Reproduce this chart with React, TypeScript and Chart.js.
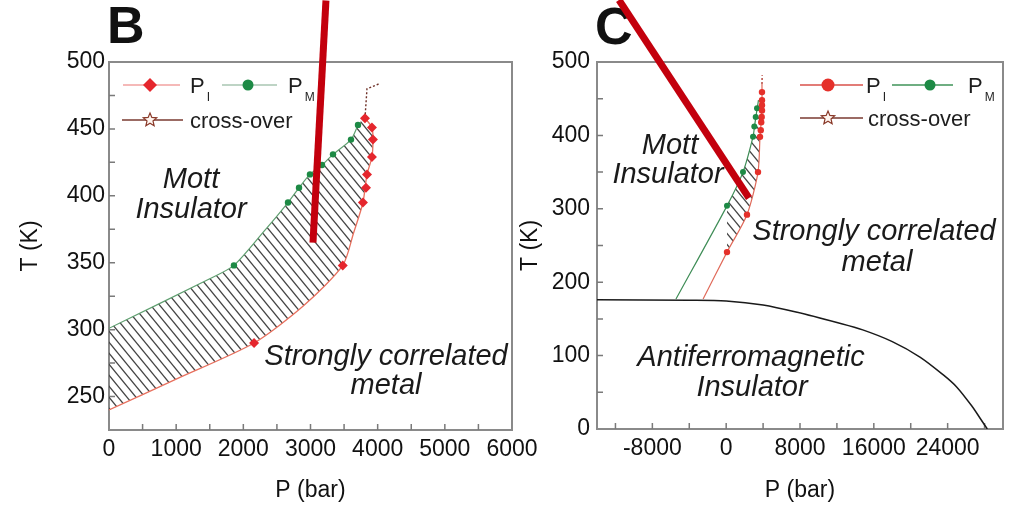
import React, { useEffect, useRef } from 'react';
import { Chart, registerables } from 'chart.js';

Chart.register(...registerables);

// ================= Panel B data =================
const B_PI_CURVE_P = [0, 1000, 2160, 2900, 3480, 3640, 3781, 3841, 3915, 3930, 3915, 3811];
const B_PI_CURVE_T = [240, 263, 290, 318, 348, 372, 395, 416, 429, 442, 451, 458];
const B_PI_P = [2160, 3480, 3781, 3826, 3841, 3915, 3930, 3915, 3811];
const B_PI_T = [290, 348, 395, 406, 416, 429, 442, 451, 458];
const B_PM_CURVE_P = [0, 1500, 1860, 2300, 2665, 2829, 2992, 3171, 3335, 3603, 3707];
const B_PM_CURVE_T = [301, 338, 348, 373, 395, 406, 416, 423, 431, 442, 453];
const B_PM_P = [1860, 2665, 2829, 2992, 3171, 3335, 3603, 3707];
const B_PM_T = [348, 395, 406, 416, 423, 431, 442, 453];
const B_CROSS_P = [3811, 3841, 4035];
const B_CROSS_T = [458, 480, 484];
const B_ARROW_P = [3230, 3037];
const B_ARROW_T = [546, 365];
const B_X_TICKS = [0, 1000, 2000, 3000, 4000, 5000, 6000];
const B_Y_TICKS = [250, 300, 350, 400, 450, 500];
const B_X_MINOR = [500, 1000, 1500, 2000, 2500, 3000, 3500, 4000, 4500, 5000, 5500];
const B_Y_MINOR = [250, 275, 300, 325, 350, 375, 400, 425, 450, 475];

// ================= Panel C data =================
const C_AF_P = [-14000, -4000, 0, 4000, 7700, 12000, 14800, 18000, 21000, 23500, 25000, 26700, 27500, 28300];
const C_AF_T = [176, 175.5, 174.5, 169, 159, 145, 135, 119, 98, 74, 57, 30, 15, 0];
const C_PI_CURVE_P = [-2500, 88, 2256, 3450, 3665, 3800, 3880, 3880];
const C_PI_CURVE_T = [177, 241, 292, 350, 398, 420, 440, 470];
const C_PI_P = [88, 2256, 3450, 3665, 3750, 3800, 3850, 3880, 3880, 3880, 3880];
const C_PI_T = [241, 292, 350, 398, 407, 418, 425, 434, 441, 448, 459];
const C_PM_CURVE_P = [-5440, 88, 1822, 2906, 3100, 3250, 3400, 3500];
const C_PM_CURVE_T = [177, 304, 350, 398, 415, 428, 440, 448];
const C_PM_P = [88, 1822, 2906, 3050, 3200, 3340];
const C_PM_T = [304, 350, 398, 412, 425, 437];
const C_CROSS_P = [3880, 3890, 3900];
const C_CROSS_T = [470, 476, 482];
const C_ARROW_P = [-11616, 2472];
const C_ARROW_T = [584.5, 314.7];
const C_X_TICKS = [-8000, 0, 8000, 16000, 24000];
const C_Y_TICKS = [0, 100, 200, 300, 400, 500];
const C_X_MINOR = [-12000, -8000, -4000, 0, 4000, 8000, 12000, 16000, 20000, 24000, 28000];
const C_Y_MINOR = [50, 100, 150, 200, 250, 300, 350, 400, 450];

const FONT = '"Liberation Sans", Arial, Helvetica, sans-serif';
const ARROW_RED = '#c3000d';

type Pt = { x: number; y: number };
const zip = (xs: number[], ys: number[]): Pt[] => xs.map((x, i) => ({ x, y: ys[i] }));

function makeHatch(): CanvasPattern | string {
  const w = 9, h = 11;
  const c = document.createElement('canvas');
  c.width = w; c.height = h;
  const g = c.getContext('2d');
  if (!g) return 'rgba(0,0,0,0.3)';
  g.strokeStyle = '#444444';
  g.lineWidth = 1.3;
  for (const k of [-1, 0, 1]) {
    g.beginPath();
    g.moveTo(k * w - w, -h);
    g.lineTo(k * w + 2 * w, 2 * h);
    g.stroke();
  }
  return g.createPattern(c, 'repeat') || 'rgba(0,0,0,0.3)';
}

type LegendItem = { kind: 'diamond' | 'circle' | 'star'; color: string; lineColor: string; x0: number; x1: number; mx: number; y: number; tx: number; label: string; sub?: string; size: number };
type TextItem = { text: string; x: number; y: number };
type DecorCfg = { letter: string; letterDx: number; letterY: number; xMinor: number[]; yMinor: number[]; legend: LegendItem[]; texts: TextItem[] };

function drawMarker(ctx: CanvasRenderingContext2D, kind: string, x: number, y: number, r: number, color: string) {
  ctx.save();
  ctx.fillStyle = color;
  ctx.strokeStyle = color;
  ctx.beginPath();
  if (kind === 'diamond') {
    ctx.moveTo(x, y - r); ctx.lineTo(x + r, y); ctx.lineTo(x, y + r); ctx.lineTo(x - r, y); ctx.closePath(); ctx.fill();
  } else if (kind === 'circle') {
    ctx.arc(x, y, r, 0, Math.PI * 2); ctx.fill();
  } else {
    for (let i = 0; i < 10; i++) {
      const ang = -Math.PI / 2 + (i * Math.PI) / 5;
      const rr = i % 2 === 0 ? r : r * 0.45;
      const px = x + rr * Math.cos(ang), py = y + rr * Math.sin(ang);
      if (i === 0) ctx.moveTo(px, py); else ctx.lineTo(px, py);
    }
    ctx.closePath();
    ctx.fillStyle = '#fff6f0';
    ctx.fill();
    ctx.lineWidth = 1.2;
    ctx.stroke();
  }
  ctx.restore();
}

function decorPlugin(cfg: DecorCfg) {
  return {
    id: 'decor',
    beforeDatasetsDraw(chart: any) {
      const { ctx, chartArea: a } = chart;
      const xs = chart.scales.x, ys = chart.scales.y;
      ctx.save();
      // frame
      ctx.strokeStyle = '#8a8a8a';
      ctx.lineWidth = 2;
      ctx.strokeRect(a.left, a.top, a.right - a.left, a.bottom - a.top);
      // inward ticks
      ctx.lineWidth = 1.5;
      ctx.strokeStyle = '#7a7a7a';
      ctx.beginPath();
      for (const v of cfg.xMinor) {
        const p = xs.getPixelForValue(v);
        ctx.moveTo(p, a.bottom); ctx.lineTo(p, a.bottom - 6);
      }
      for (const v of cfg.yMinor) {
        const p = ys.getPixelForValue(v);
        ctx.moveTo(a.left, p); ctx.lineTo(a.left + 6, p);
      }
      ctx.stroke();
      // region texts
      ctx.fillStyle = '#1a1a1a';
      ctx.textAlign = 'center';
      ctx.textBaseline = 'middle';
      ctx.font = `italic 29px ${FONT}`;
      for (const t of cfg.texts) {
        ctx.fillText(t.text, xs.getPixelForValue(t.x), ys.getPixelForValue(t.y));
      }
      // legend
      ctx.textAlign = 'left';
      ctx.textBaseline = 'alphabetic';
      for (const it of cfg.legend) {
        const y = a.top + it.y;
        ctx.strokeStyle = it.lineColor;
        ctx.lineWidth = 1.4;
        ctx.beginPath();
        ctx.moveTo(a.left + it.x0, y); ctx.lineTo(a.left + it.x1, y);
        ctx.stroke();
        drawMarker(ctx, it.kind, a.left + it.mx, y, it.size, it.color);
        ctx.fillStyle = '#1e1e1e';
        ctx.font = `22px ${FONT}`;
        ctx.fillText(it.label, a.left + it.tx, y + 8);
        if (it.sub) {
          const w = ctx.measureText(it.label).width;
          ctx.font = `12px ${FONT}`;
          ctx.fillText(it.sub, a.left + it.tx + w + 2, y + 16);
        }
      }
      // panel letter
      ctx.fillStyle = '#111';
      ctx.font = `bold 52px ${FONT}`;
      ctx.fillText(cfg.letter, a.left + cfg.letterDx, cfg.letterY);
      ctx.restore();
    },
  };
}

function scaleOpts(min: number, max: number, ticks: number[], fixedSize: number, isX: boolean, tickPad: number, title: string, titlePad: any) {
  return {
    type: 'linear',
    min,
    max,
    afterBuildTicks: (s: any) => { s.ticks = ticks.map((v) => ({ value: v })); },
    afterFit: (s: any) => { if (isX) s.height = fixedSize; else s.width = fixedSize; },
    grid: { display: false, drawTicks: false },
    border: { display: false },
    ticks: {
      autoSkip: false,
      maxRotation: 0,
      padding: tickPad,
      color: '#111111',
      font: { family: FONT, size: 23 },
      callback: (v: any) => String(v),
    },
    title: { display: true, text: title, color: '#111111', font: { family: FONT, size: 23 }, padding: titlePad },
  };
}

function lineDs(pts: Pt[], color: string, width: number, extra: any = {}) {
  return { data: pts, showLine: true, borderColor: color, borderWidth: width, pointRadius: 0, tension: 0.25, fill: false, ...extra };
}
function markDs(pts: Pt[], style: string, r: number, color: string) {
  return { data: pts, showLine: false, pointStyle: style, pointRadius: r, backgroundColor: color, borderColor: color, borderWidth: 0 };
}

function buildB(): any {
  const pm = zip(B_PM_CURVE_P, B_PM_CURVE_T);
  const pi = zip(B_PI_CURVE_P, B_PI_CURVE_T);
  const hatch = [...pm, ...pi.slice().reverse()];
  const decor: DecorCfg = {
    letter: 'B', letterDx: -2, letterY: 43,
    xMinor: B_X_MINOR, yMinor: B_Y_MINOR,
    legend: [
      { kind: 'diamond', color: '#e5262d', lineColor: '#f2a2a0', x0: 14, x1: 71, mx: 41, y: 23, tx: 81, label: 'P', sub: 'I', size: 7 },
      { kind: 'circle', color: '#1d8a45', lineColor: '#a9c6b2', x0: 113, x1: 168, mx: 139, y: 23, tx: 179, label: 'P', sub: 'M', size: 5.5 },
      { kind: 'star', color: '#8a3a2a', lineColor: '#7a3a30', x0: 13, x1: 74, mx: 41, y: 58, tx: 81, label: 'cross-over', size: 7 },
    ],
    texts: [
      { text: 'Mott', x: 1221, y: 411.8 },
      { text: 'Insulator', x: 1221, y: 389.4 },
      { text: 'Strongly correlated', x: 4124, y: 279.5 },
      { text: 'metal', x: 4124, y: 257.9 },
    ],
  };
  return {
    type: 'scatter',
    data: {
      datasets: [
        lineDs(zip(B_ARROW_P, B_ARROW_T), ARROW_RED, 7, { clip: false, tension: 0, borderCapStyle: 'butt' }),
        markDs(zip(B_PI_P, B_PI_T), 'rectRot', 5, '#e5262d'),
        markDs(zip(B_PM_P, B_PM_T), 'circle', 3.2, '#1d8a45'),
        lineDs(zip(B_CROSS_P, B_CROSS_T), '#6e2f26', 1.4, { borderDash: [2, 2], tension: 0 }),
        lineDs(pi, '#e8705e', 1.3),
        lineDs(pm, '#5f9f70', 1.2),
        { data: hatch, showLine: true, borderWidth: 0, borderColor: 'rgba(0,0,0,0)', pointRadius: 0, tension: 0.25, fill: 'shape', backgroundColor: makeHatch() },
      ],
    },
    options: {
      responsive: false,
      animation: false,
      events: [],
      layout: { padding: { left: 0, right: 48, top: 62, bottom: 0 } },
      plugins: { legend: { display: false }, tooltip: { enabled: false }, title: { display: false } },
      scales: {
        x: scaleOpts(0, 6000, B_X_TICKS, 78, true, 6, 'P (bar)', { top: 0, bottom: 4 }),
        y: scaleOpts(225, 500, B_Y_TICKS, 109, false, 4, 'T (K)', { top: 17, bottom: 0 }),
      },
    },
    plugins: [decorPlugin(decor)],
  };
}

function buildC(): any {
  const pm = zip(C_PM_CURVE_P, C_PM_CURVE_T);
  const pi = zip(C_PI_CURVE_P, C_PI_CURVE_T);
  const hatch = [...pm.slice(1), ...pi.slice(1, -1).reverse()];
  const decor: DecorCfg = {
    letter: 'C', letterDx: -2, letterY: 44,
    xMinor: C_X_MINOR, yMinor: C_Y_MINOR,
    legend: [
      { kind: 'circle', color: '#e5302a', lineColor: '#d8504a', x0: 203, x1: 266, mx: 231, y: 23, tx: 269, label: 'P', sub: 'I', size: 6.5 },
      { kind: 'circle', color: '#1d8a45', lineColor: '#3f9358', x0: 295, x1: 356, mx: 333, y: 23, tx: 371, label: 'P', sub: 'M', size: 5.5 },
      { kind: 'star', color: '#8a3a2a', lineColor: '#7a3a30', x0: 203, x1: 266, mx: 231, y: 56, tx: 271, label: 'cross-over', size: 7 },
    ],
    texts: [
      { text: 'Mott', x: -6089, y: 385.6 },
      { text: 'Insulator', x: -6306, y: 346 },
      { text: 'Strongly correlated', x: 16018, y: 268.4 },
      { text: 'metal', x: 16343, y: 226.2 },
      { text: 'Antiferromagnetic', x: 2689, y: 96.7 },
      { text: 'Insulator', x: 2797, y: 55.9 },
    ],
  };
  return {
    type: 'scatter',
    data: {
      datasets: [
        lineDs(zip(C_ARROW_P, C_ARROW_T), ARROW_RED, 7, { clip: false, tension: 0, borderCapStyle: 'butt' }),
        markDs(zip(C_PI_P, C_PI_T), 'circle', 3.2, '#e5302a'),
        markDs(zip(C_PM_P, C_PM_T), 'circle', 3, '#1d8a45'),
        lineDs(zip(C_CROSS_P, C_CROSS_T), '#b03a30', 1.4, { borderDash: [2, 2], tension: 0 }),
        lineDs(pi, '#e06a5a', 1.2),
        lineDs(pm, '#3f8d57', 1.2),
        lineDs(zip(C_AF_P, C_AF_T), '#1a1a1a', 1.5, { tension: 0.3 }),
        { data: hatch, showLine: true, borderWidth: 0, borderColor: 'rgba(0,0,0,0)', pointRadius: 0, tension: 0.25, fill: 'shape', backgroundColor: makeHatch() },
      ],
    },
    options: {
      responsive: false,
      animation: false,
      events: [],
      layout: { padding: { left: 0, right: 12, top: 62, bottom: 0 } },
      plugins: { legend: { display: false }, tooltip: { enabled: false }, title: { display: false } },
      scales: {
        x: scaleOpts(-14000, 30000, C_X_TICKS, 79, true, 6, 'P (bar)', { top: 0, bottom: 4 }),
        y: scaleOpts(0, 500, C_Y_TICKS, 97, false, 7, 'T (K)', { top: 17, bottom: 0 }),
      },
    },
    plugins: [decorPlugin(decor)],
  };
}

function ChartCanvas({ left, width, build }: { left: number; width: number; build: () => any }) {
  const ref = useRef<HTMLCanvasElement>(null);
  useEffect(() => {
    if (!ref.current) return;
    const chart = new Chart(ref.current, build());
    return () => chart.destroy();
  }, []);
  return (
    <canvas
      ref={ref}
      width={width}
      height={508}
      style={{ position: 'absolute', left, top: 0, width, height: 508 }}
    />
  );
}

export default function App() {
  return (
    <div style={{ position: 'fixed', left: 0, top: 0, width: 1015, height: 508, background: '#ffffff', overflow: 'hidden' }}>
      <ChartCanvas left={0} width={560} build={buildB} />
      <ChartCanvas left={500} width={515} build={buildC} />
    </div>
  );
}
